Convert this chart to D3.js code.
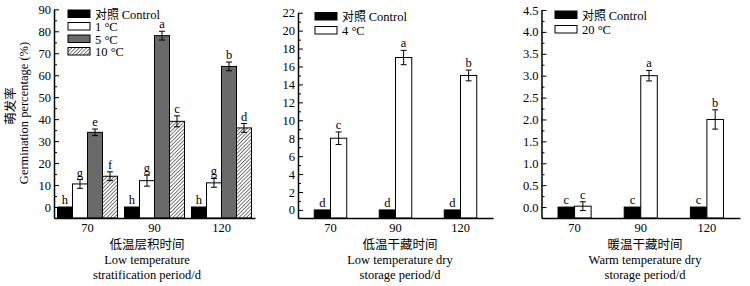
<!DOCTYPE html>
<html>
<head>
<meta charset="utf-8">
<script src="https://cdn.jsdelivr.net/npm/d3@7"></script>
<style>
  body { margin: 0; background: #fff; }
  text { font-family: "Liberation Serif", "Times New Roman", serif; fill: #000; }
  .cjk { font-family: "Noto Sans CJK SC", sans-serif; }
</style>
</head>
<body>
<svg id="chart" width="750" height="286"></svg>
<script>
// 分组 (d)
const groups = ['70', '90', '120'];

// 低温层积
const strat_ctrl = [0, 0, 0];
const strat_1 = [10.5, 12, 11];
const strat_5 = [34, 78, 64];
const strat_10 = [14, 39, 36];
const strat_1_err = [2, 2.5, 2];
const strat_5_err = [1.5, 2, 2];
const strat_10_err = [2, 2.5, 2];
const strat_ctrl_sig = ['h', 'h', 'h'];
const strat_1_sig = ['g', 'g', 'g'];
const strat_5_sig = ['e', 'a', 'b'];
const strat_10_sig = ['f', 'c', 'd'];

// 低温干藏
const dry_ctrl = [0, 0, 0];
const dry_4 = [8, 17, 15];
const dry_4_err = [0.7, 0.8, 0.6];
const dry_ctrl_sig = ['d', 'd', 'd'];
const dry_4_sig = ['c', 'a', 'b'];

// 暖温干藏
const warm_ctrl = [0, 0, 0];
const warm_20 = [0.02, 3.0, 2.0];
const warm_20_err = [0.1, 0.12, 0.22];
const warm_ctrl_sig = ['c', 'c', 'c'];
const warm_20_sig = ['c', 'a', 'b'];

const svg = d3.select('#chart');

// 斜线填充
const defs = svg.append('defs');
defs.append('pattern')
    .attr('id', 'hatch')
    .attr('patternUnits', 'userSpaceOnUse')
    .attr('width', 2.6).attr('height', 2.6)
    .attr('patternTransform', 'rotate(45)')
  .call(p => {
      p.append('rect').attr('width', 2.6).attr('height', 2.6).attr('fill', '#fff');
      p.append('line').attr('x1', 0).attr('y1', 0).attr('x2', 0).attr('y2', 2.6)
          .attr('stroke', '#222').attr('stroke-width', 1.2);
  });

const panels = [
    {
        x: [54, 255], top: 9.3, domain: [-5, 90], major: 10, minor: 5, fmt: d3.format('d'),
        pad: 0.233, legendX: 68, legendY: 10, legendStep: 12.5, titleX: 147,
        title: ['低温层积时间', 'Low temperature', 'stratification period/d'],
        series: [
            { name: '对照 Control', values: strat_ctrl, err: null, sig: strat_ctrl_sig, fill: '#000' },
            { name: '1 °C', values: strat_1, err: strat_1_err, sig: strat_1_sig, fill: '#fff' },
            { name: '5 °C', values: strat_5, err: strat_5_err, sig: strat_5_sig, fill: '#6a6a6a' },
            { name: '10 °C', values: strat_10, err: strat_10_err, sig: strat_10_sig, fill: 'url(#hatch)' }
        ]
    },
    {
        x: [298, 493], top: 12.7, domain: [-0.9, 22], major: 2, minor: 1, fmt: d3.format('d'),
        pad: 1.0, legendX: 315, legendY: 12.5, legendStep: 14, titleX: 400,
        title: ['低温干藏时间', 'Low temperature dry', 'storage period/d'],
        series: [
            { name: '对照 Control', values: dry_ctrl, err: null, sig: dry_ctrl_sig, fill: '#000' },
            { name: '4 °C', values: dry_4, err: dry_4_err, sig: dry_4_sig, fill: '#fff' }
        ]
    },
    {
        x: [541.5, 740], top: 10, domain: [-0.25, 4.5], major: 0.5, minor: 0.25, fmt: d3.format('.1f'),
        pad: 1.0, legendX: 555, legendY: 11, legendStep: 14.5, titleX: 645,
        title: ['暖温干藏时间', 'Warm temperature dry', 'storage period/d'],
        series: [
            { name: '对照 Control', values: warm_ctrl, err: null, sig: warm_ctrl_sig, fill: '#000' },
            { name: '20 °C', values: warm_20, err: warm_20_err, sig: warm_20_sig, fill: '#fff' }
        ]
    }
];

const bottom = 218;

panels.forEach(pn => {
    const g = svg.append('g');
    const x = d3.scaleBand().domain(groups).range(pn.x).paddingInner(0).paddingOuter(0);
    const xs = d3.scaleBand().domain(pn.series.map((s, i) => i))
        .range([0, x.bandwidth()]).paddingInner(0).paddingOuter(pn.pad);
    const y = d3.scaleLinear().domain(pn.domain).range([bottom, pn.top]);

    const majorTicks = d3.range(0, pn.domain[1] + 1e-9, pn.major);
    const minorTicks = d3.range(0, pn.domain[1] + 1e-9, pn.minor).filter(v => majorTicks.every(m => Math.abs(m - v) > 1e-9));

    // bars
    pn.series.forEach((s, si) => {
        const bg = g.append('g');
        bg.selectAll('rect').data(s.values).join('rect')
            .attr('x', (d, i) => x(groups[i]) + xs(si))
            .attr('width', xs.bandwidth())
            .attr('y', d => y(d))
            .attr('height', d => bottom - y(d))
            .attr('fill', s.fill)
            .attr('stroke', '#000')
            .attr('stroke-width', 1);

        if (s.err) {
            s.values.forEach((v, i) => {
                const cx = x(groups[i]) + xs(si) + xs.bandwidth() / 2;
                const e = s.err[i];
                const eg = bg.append('g').attr('stroke', '#000').attr('stroke-width', 1);
                eg.append('line').attr('x1', cx).attr('x2', cx).attr('y1', y(v - e)).attr('y2', y(v + e));
                eg.append('line').attr('x1', cx - 3).attr('x2', cx + 3).attr('y1', y(v - e)).attr('y2', y(v - e));
                eg.append('line').attr('x1', cx - 3).attr('x2', cx + 3).attr('y1', y(v + e)).attr('y2', y(v + e));
            });
        }

        bg.selectAll('text.sig').data(s.values).join('text')
            .attr('class', 'sig')
            .attr('x', (d, i) => x(groups[i]) + xs(si) + xs.bandwidth() / 2)
            .attr('y', (d, i) => y(d + (s.err ? s.err[i] : 0)) - 3)
            .attr('text-anchor', 'middle')
            .style('font-size', '12.5px')
            .text((d, i) => s.sig[i]);
    });

    // y axis
    g.append('g')
        .attr('transform', `translate(${pn.x[0]},0)`)
        .call(d3.axisLeft(y).tickValues(minorTicks).tickSize(-3).tickFormat(''))
        .call(a => a.select('.domain').remove())
        .call(a => a.selectAll('line').attr('stroke-width', 1));
    g.append('g')
        .attr('transform', `translate(${pn.x[0]},0)`)
        .call(d3.axisLeft(y).tickValues(majorTicks).tickSizeInner(-5).tickSizeOuter(0).tickPadding(3).tickFormat(pn.fmt))
        .call(a => a.select('.domain').attr('stroke-width', 1.5))
        .call(a => a.selectAll('line').attr('stroke-width', 1))
        .call(a => a.selectAll('text').style('font-size', '12.5px').style('font-family', '"Liberation Serif", serif'));

    // x axis
    g.append('g')
        .attr('transform', `translate(0,${bottom})`)
        .call(d3.axisBottom(x).tickSize(0).tickPadding(5))
        .call(a => a.select('.domain').attr('stroke-width', 1.5))
        .call(a => a.selectAll('text').style('font-size', '12.5px').style('font-family', '"Liberation Serif", serif'));

    // x titles
    g.append('text').attr('class', 'cjk').attr('x', pn.titleX).attr('y', 249)
        .attr('text-anchor', 'middle').style('font-size', '12.5px').text(pn.title[0]);
    g.append('text').attr('x', pn.titleX).attr('y', 264)
        .attr('text-anchor', 'middle').style('font-size', '12.5px').text(pn.title[1]);
    g.append('text').attr('x', pn.titleX).attr('y', 279)
        .attr('text-anchor', 'middle').style('font-size', '12.5px').text(pn.title[2]);

    // legend
    const lg = g.append('g').attr('transform', `translate(${pn.legendX},${pn.legendY})`);
    pn.series.forEach((s, si) => {
        const row = lg.append('g').attr('transform', `translate(0,${si * pn.legendStep})`);
        row.append('rect').attr('width', 22).attr('height', 7.5)
            .attr('fill', s.fill).attr('stroke', '#000').attr('stroke-width', 1);
        const t = row.append('text').attr('x', 27).attr('y', 8.5).style('font-size', '12.5px');
        if (s.name.startsWith('对照')) {
            t.append('tspan').attr('class', 'cjk').style('font-size', '12px').text('对照 ');
            t.append('tspan').text('Control');
        } else {
            t.text(s.name);
        }
    });
});

// y title
svg.append('text').attr('class', 'cjk')
    .attr('transform', 'translate(15,106) rotate(-90)')
    .attr('text-anchor', 'middle').style('font-size', '12.5px').text('萌发率');
svg.append('text')
    .attr('transform', 'translate(28,113) rotate(-90)')
    .attr('text-anchor', 'middle').style('font-size', '12.5px').text('Germination percentage (%)');
</script>
</body>
</html>
